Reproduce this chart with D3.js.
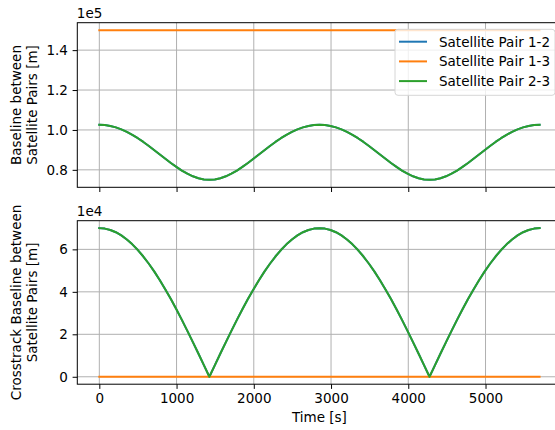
<!DOCTYPE html>
<html>
<head>
<meta charset="utf-8">
<script src="https://cdn.jsdelivr.net/npm/d3@7"></script>
<style>
  html, body { margin: 0; padding: 0; background: #fff; }
  svg { display: block; font-family: "DejaVu Sans", sans-serif; }
</style>
</head>
<body>
<svg id="chart" width="555" height="430"></svg>
<script>
// ---------------- data ----------------
const time = [0,71.25,142.5,213.75,285,356.25,427.5,498.75,570,641.25,712.5,783.75,855,926.25,997.5,1068.75,1140,1211.25,1282.5,1353.75,1425,
  1496.25,1567.5,1638.75,1710,1781.25,1852.5,1923.75,1995,2066.25,2137.5,2208.75,2280,2351.25,2422.5,2493.75,2565,2636.25,2707.5,2778.75,2850,
  2921.25,2992.5,3063.75,3135,3206.25,3277.5,3348.75,3420,3491.25,3562.5,3633.75,3705,3776.25,3847.5,3918.75,3990,4061.25,4132.5,4203.75,4275,
  4346.25,4417.5,4488.75,4560,4631.25,4702.5,4773.75,4845,4916.25,4987.5,5058.75,5130,5201.25,5272.5,5343.75,5415,5486.25,5557.5,5628.75,5700];

// Baseline [m]
const baseline12 = [102590,102440,102010,101280,100290,99030,97550,95850,93980,91970,89860,87700,85550,83440,81460,79640,78060,76760,75800,75200,75000,
  75200,75800,76760,78060,79640,81460,83440,85550,87700,89860,91970,93980,95850,97550,99030,100290,101280,102010,102440,102590,
  102440,102010,101280,100290,99030,97550,95850,93980,91970,89860,87700,85550,83440,81460,79640,78060,76760,75800,75200,75000,
  75200,75800,76760,78060,79640,81460,83440,85550,87700,89860,91970,93980,95850,97550,99030,100290,101280,102010,102440,102590];
const baseline13 = [150000,150000,150000,150000,150000,150000,150000,150000,150000,150000,150000,150000,150000,150000,150000,150000,150000,150000,150000,150000,150000,
  150000,150000,150000,150000,150000,150000,150000,150000,150000,150000,150000,150000,150000,150000,150000,150000,150000,150000,150000,150000,
  150000,150000,150000,150000,150000,150000,150000,150000,150000,150000,150000,150000,150000,150000,150000,150000,150000,150000,150000,150000,
  150000,150000,150000,150000,150000,150000,150000,150000,150000,150000,150000,150000,150000,150000,150000,150000,150000,150000,150000,150000];
const baseline23 = [102590,102440,102010,101280,100290,99030,97550,95850,93980,91970,89860,87700,85550,83440,81460,79640,78060,76760,75800,75200,75000,
  75200,75800,76760,78060,79640,81460,83440,85550,87700,89860,91970,93980,95850,97550,99030,100290,101280,102010,102440,102590,
  102440,102010,101280,100290,99030,97550,95850,93980,91970,89860,87700,85550,83440,81460,79640,78060,76760,75800,75200,75000,
  75200,75800,76760,78060,79640,81460,83440,85550,87700,89860,91970,93980,95850,97550,99030,100290,101280,102010,102440,102590];

// Crosstrack baseline [m]
const cross12 = [70000,69780,69140,68070,66570,64670,62370,59690,56630,53230,49500,45460,41150,36580,31780,26790,21630,16340,10950,5490,0,
  5490,10950,16340,21630,26790,31780,36580,41150,45460,49500,53230,56630,59690,62370,64670,66570,68070,69140,69780,70000,
  69780,69140,68070,66570,64670,62370,59690,56630,53230,49500,45460,41150,36580,31780,26790,21630,16340,10950,5490,0,
  5490,10950,16340,21630,26790,31780,36580,41150,45460,49500,53230,56630,59690,62370,64670,66570,68070,69140,69780,70000];
const cross13 = [0,0,0,0,0,0,0,0,0,0,0,0,0,0,0,0,0,0,0,0,0,
  0,0,0,0,0,0,0,0,0,0,0,0,0,0,0,0,0,0,0,0,
  0,0,0,0,0,0,0,0,0,0,0,0,0,0,0,0,0,0,0,0,
  0,0,0,0,0,0,0,0,0,0,0,0,0,0,0,0,0,0,0,0];
const cross23 = [70000,69780,69140,68070,66570,64670,62370,59690,56630,53230,49500,45460,41150,36580,31780,26790,21630,16340,10950,5490,0,
  5490,10950,16340,21630,26790,31780,36580,41150,45460,49500,53230,56630,59690,62370,64670,66570,68070,69140,69780,70000,
  69780,69140,68070,66570,64670,62370,59690,56630,53230,49500,45460,41150,36580,31780,26790,21630,16340,10950,5490,0,
  5490,10950,16340,21630,26790,31780,36580,41150,45460,49500,53230,56630,59690,62370,64670,66570,68070,69140,69780,70000];

const seriesNames = ["Satellite Pair 1-2", "Satellite Pair 1-3", "Satellite Pair 2-3"];
const seriesColors = ["#1f77b4", "#ff7f0e", "#2ca02c"];

const xTicks = [0, 1000, 2000, 3000, 4000, 5000];
const topYTicks = [80000, 100000, 120000, 140000];
const topYTickLabels = ["0.8", "1.0", "1.2", "1.4"];
const botYTicks = [0, 20000, 40000, 60000];
const botYTickLabels = ["0", "2", "4", "6"];

// ---------------- layout ----------------
const svg = d3.select("#chart");
const fontSize = 13.5;
const left = 77.3, right = 561.6;
const topPanel = { y0: 22.7, y1: 187.3 };
const botPanel = { y0: 220.7, y1: 384.2 };

const x = d3.scaleLinear().domain([-285, 5985]).range([left, right]);
const yTop = d3.scaleLinear().domain([71250, 153750]).range([topPanel.y1, topPanel.y0]);
const yBot = d3.scaleLinear().domain([-3500, 73500]).range([botPanel.y1, botPanel.y0]);

function drawPanel(panel, y, yTicks, yLabels, seriesList, showXLabels, exponent, ylabelLines) {
  const g = svg.append("g");
  // grid
  g.append("g").selectAll("line.vg").data(xTicks).join("line")
    .attr("x1", d => x(d)).attr("x2", d => x(d))
    .attr("y1", panel.y0).attr("y2", panel.y1)
    .attr("stroke", "#b0b0b0").attr("stroke-width", 1);
  g.append("g").selectAll("line.hg").data(yTicks).join("line")
    .attr("x1", left).attr("x2", right)
    .attr("y1", d => y(d)).attr("y2", d => y(d))
    .attr("stroke", "#b0b0b0").attr("stroke-width", 1);

  // lines
  const line = d3.line().x((d, i) => x(time[i])).y(d => y(d));
  seriesList.forEach((s, i) => {
    g.append("path").datum(s)
      .attr("d", line)
      .attr("fill", "none")
      .attr("stroke", seriesColors[i])
      .attr("stroke-width", 2)
      .attr("stroke-linejoin", "round")
      .attr("stroke-linecap", "square");
  });

  // axes
  const xAxis = d3.axisBottom(x).tickValues(xTicks).tickSize(4.7).tickPadding(4.5)
    .tickFormat(showXLabels ? d3.format("d") : () => "");
  const xg = g.append("g").attr("transform", `translate(0,${panel.y1})`).call(xAxis);
  const yAxis = d3.axisLeft(y).tickValues(yTicks).tickSize(4.7).tickPadding(4.7)
    .tickFormat((d, i) => yLabels[i]);
  const yg = g.append("g").attr("transform", `translate(${left},0)`).call(yAxis);
  [xg, yg].forEach(a => {
    a.select(".domain").remove();
    a.selectAll(".tick line").attr("stroke", "#000").attr("stroke-width", 1);
    a.selectAll(".tick text").attr("fill", "#000")
      .style("font-size", fontSize + "px").style("font-family", "DejaVu Sans");
  });

  // spines
  g.append("rect").attr("x", left).attr("y", panel.y0)
    .attr("width", right - left).attr("height", panel.y1 - panel.y0)
    .attr("fill", "none").attr("stroke", "#000").attr("stroke-width", 1);

  // offset text
  g.append("text").attr("x", left - 0.5).attr("y", panel.y0 - 4.5)
    .attr("font-size", fontSize).attr("fill", "#000").text(exponent);

  // y label
  const cy = (panel.y0 + panel.y1) / 2;
  ylabelLines.forEach((t, i) => {
    g.append("text")
      .attr("transform", `translate(${21 + i * 15.5},${cy}) rotate(-90)`)
      .attr("text-anchor", "middle")
      .attr("font-size", fontSize).attr("fill", "#000")
      .text(t);
  });
  return g;
}

drawPanel(topPanel, yTop, topYTicks, topYTickLabels, [baseline12, baseline13, baseline23],
  false, "1e5", ["Baseline between", "Satellite Pairs [m]"]);
drawPanel(botPanel, yBot, botYTicks, botYTickLabels, [cross12, cross13, cross23],
  true, "1e4", ["Crosstrack Baseline between", "Satellite Pairs [m]"]);

// x label
svg.append("text").attr("x", (left + right) / 2).attr("y", 422)
  .attr("text-anchor", "middle").attr("font-size", fontSize).attr("fill", "#000")
  .text("Time [s]");

// legend
const leg = svg.append("g");
leg.append("rect").attr("x", 395).attr("y", 29.3).attr("width", 160).attr("height", 66)
  .attr("rx", 3).attr("fill", "#fff").attr("fill-opacity", 0.8)
  .attr("stroke", "#d6d6d6").attr("stroke-width", 1);
seriesNames.forEach((n, i) => {
  const yy = 41.7 + i * 19.7;
  leg.append("line").attr("x1", 399).attr("x2", 427).attr("y1", yy).attr("y2", yy)
    .attr("stroke", seriesColors[i]).attr("stroke-width", 2);
  leg.append("text").attr("x", 439).attr("y", yy + 4.8)
    .attr("font-size", fontSize).attr("fill", "#000").text(n);
});
</script>
</body>
</html>
